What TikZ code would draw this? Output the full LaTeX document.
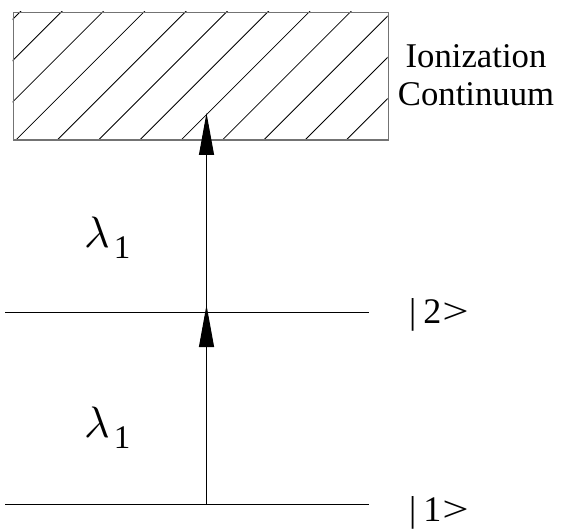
\documentclass[tikz,border=0pt]{standalone}
\usepackage{fontspec}
\setmainfont{Liberation Serif}
\usetikzlibrary{arrows.meta}
\newcommand{\lamsub}{{\fontsize{10}{12}\selectfont\scalebox{4.4}{$\lambda$}}\kern4pt\raisebox{-11pt}{\fontsize{33}{34}\selectfont 1}}
\newcommand{\ketlbl}[1]{|\kern7pt #1\kern1pt\scalebox{1.3}[1]{>}}
\begin{document}
\begin{tikzpicture}[x=1pt,y=-1pt,
  lbl/.style={inner sep=0pt, anchor=base west},
  ket/.style={inner sep=0pt, anchor=base west, font=\fontsize{36}{38}\selectfont},
  lblc/.style={inner sep=0pt, anchor=base, font=\fontsize{34.7}{38}\selectfont},
  level/.style={line width=1pt, black},
  hatch/.style={line width=0.8pt, black},
  box/.style={line width=1.5pt, draw=black!55},
  photon/.style={line width=1pt, -{Triangle[length=42pt,width=15pt]}}]
\useasboundingbox (0,0) rectangle (561,529);
% continuum box with hatching
\begin{scope}
  \clip (12.5,12) rectangle (387.5,139.5);
  \foreach \k in {0,...,12} {
    \pgfmathsetmacro{\c}{32+41.3*\k}
    \draw[hatch] (\c-200,200) -- (\c+200,-200);
  }
\end{scope}
\node[box, draw, minimum width=375pt, minimum height=127.5pt, inner sep=0pt, anchor=north west] (cont) at (12.5,12) {};
\node[lblc] (ion1) at (476,68) {Ionization};
\node[lblc] (ion2) at (476,106) {Continuum};
% levels
\coordinate (l2a) at (5,312);
\coordinate (l2b) at (369,312);
\coordinate (l1a) at (5,504);
\coordinate (l1b) at (369,504);
\draw[level] (l2a) -- (l2b);
\draw[level] (l1a) -- (l1b);
\node[ket] (k2) at (409,323) {\ketlbl{2}};
\node[ket] (k1) at (409,521) {\ketlbl{1}};
% transitions
\coordinate (p1) at (206.5,504);
\coordinate (t1) at (206.5,305);
\coordinate (p2) at (206.5,312);
\coordinate (t2) at (206.5,113);
\draw[photon] (p1) -- (t1);
\draw[photon] (p2) -- (t2);
\node[lbl] (lam2) at (84,247) {\lamsub};
\node[lbl] (lam1) at (84,437) {\lamsub};
\end{tikzpicture}
\end{document}
